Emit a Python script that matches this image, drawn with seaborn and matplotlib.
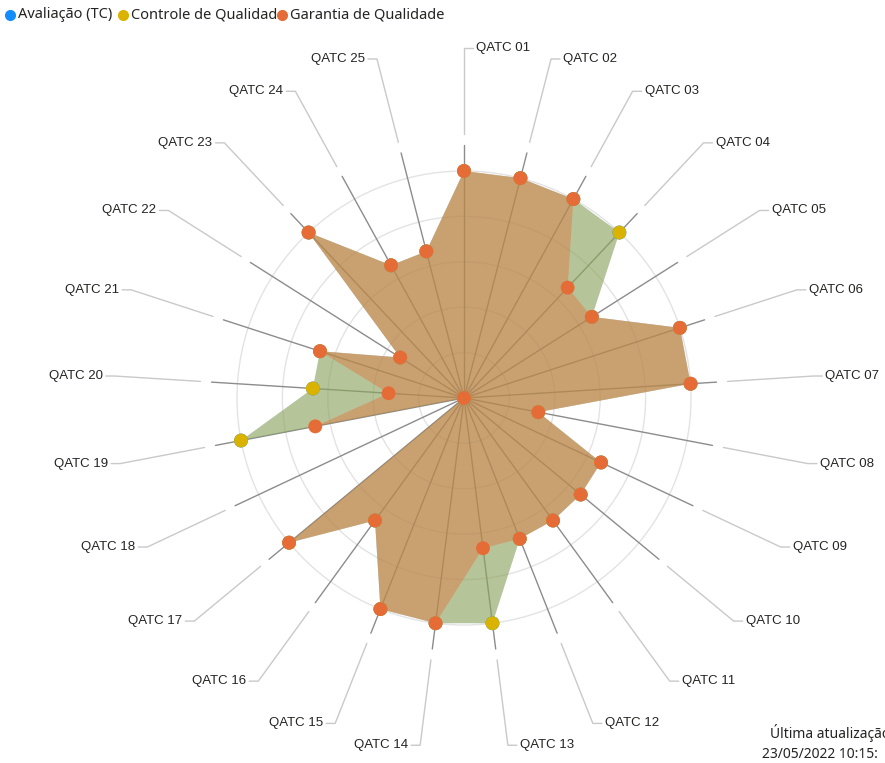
import numpy as np
import pandas as pd
import matplotlib.pyplot as plt
from matplotlib.patches import Circle
import seaborn as sns

# categories and series values (percent of the outer ring)
categories = ["QATC 01", "QATC 02", "QATC 03", "QATC 04", "QATC 05",
              "QATC 06", "QATC 07", "QATC 08", "QATC 09", "QATC 10",
              "QATC 11", "QATC 12", "QATC 13", "QATC 14", "QATC 15",
              "QATC 16", "QATC 17", "QATC 18", "QATC 19", "QATC 20",
              "QATC 21", "QATC 22", "QATC 23", "QATC 24", "QATC 25"]

avaliacao = [100, 100, 100, 100, 66.7, 100, 100, 33.3, 66.7, 66.7,
             66.7, 66.7, 100, 100, 100, 66.7, 100, 0, 100, 66.7,
             66.7, 33.3, 100, 66.7, 66.7]
controle = [100, 100, 100, 100, 66.7, 100, 100, 33.3, 66.7, 66.7,
            66.7, 66.7, 100, 100, 100, 66.7, 100, 0, 100, 66.7,
            66.7, 33.3, 100, 66.7, 66.7]
garantia = [100, 100, 100, 66.7, 66.7, 100, 100, 33.3, 66.7, 66.7,
            66.7, 66.7, 66.7, 100, 100, 66.7, 100, 0, 66.7, 33.3,
            66.7, 33.3, 100, 66.7, 66.7]

series_names = ["Avaliação (TC)", "Controle de Qualidade", "Garantia de Qualidade"]
series_colors = ["#118DFF", "#D9B300", "#E66C37"]
grid_levels = [20, 40, 60, 80, 100]
last_update = ["Última atualização", "23/05/2022 10:15:"]

# layout in pixels
W, H = 885, 763
cx, cy = 464, 398
R_PX = 227
u = 100 / R_PX  # data units per pixel

sns.set_style("white")
plt.rcParams["font.family"] = ["Liberation Sans", "DejaVu Sans"]

fig = plt.figure(figsize=(W / 100, H / 100), dpi=100)
ax = fig.add_axes([0, 0, 1, 1])
ax.axis("off")

n = len(categories)
theta = np.deg2rad(90 - np.arange(n) * 360 / n)
cos_t, sin_t = np.cos(theta), np.sin(theta)

# grid rings
for lvl in grid_levels:
    ax.add_patch(Circle((0, 0), lvl, fill=False, ec="#e3e3e3", lw=1, zorder=1))

# spokes, leader lines and labels
for i, lab in enumerate(categories):
    c, s = cos_t[i], sin_t[i]
    ax.plot([0, 253 * u * c], [0, 253 * u * s], color="#8c8c8c", lw=1, zorder=2)
    ex, ey = 350 * u * c, 350 * u * s
    d = 1 if c >= -1e-9 else -1
    ax.plot([264 * u * c, ex, ex + d * 9 * u], [264 * u * s, ey, ey],
            color="#c9c9c9", lw=1, zorder=2)
    ax.text(ex + d * 12 * u, ey, lab, ha="left" if d > 0 else "right",
            va="center", fontsize=9.5, color="#252423")

# fills
rows = []
for name, col, vals in zip(series_names, series_colors, [avaliacao, controle, garantia]):
    v = np.array(vals, dtype=float)
    x, y = v * cos_t, v * sin_t
    ax.fill(x, y, color=col, alpha=0.4, lw=0, zorder=3)
    for k in range(n):
        rows.append({"serie": name, "cat": categories[k], "x": x[k], "y": y[k]})
df = pd.DataFrame(rows)

sns.scatterplot(data=df, x="x", y="y", hue="serie", hue_order=series_names,
                palette=dict(zip(series_names, series_colors)), s=100,
                linewidth=0, legend=False, ax=ax, zorder=5)
ax.set_xlim(-cx * u, (W - cx) * u)
ax.set_ylim(-(H - cy) * u, cy * u)

# legend at top-left
leg_font = ["Noto Sans", "DejaVu Sans"]
leg_dots = [10, 123, 282]
for name, col, dx in zip(series_names, series_colors, leg_dots):
    ax.plot((dx - cx) * u, (cy - 15) * u, "o", ms=8, color=col, mec="none", zorder=6)
    ax.text((dx + 8 - cx) * u, (cy - 15) * u, name, ha="left", va="center",
            fontsize=10.5, color="#252423", family=leg_font, zorder=5)

# last update note (runs off the right edge, as in the source)
fig.text(770 / W, 1 - 733 / H, last_update[0], ha="left", va="center",
         fontsize=10, color="#252423", family=leg_font)
fig.text(762 / W, 1 - 755 / H, last_update[1], ha="left", va="center",
         fontsize=10, color="#252423", family=leg_font)

fig.savefig("out.png", dpi=100)
